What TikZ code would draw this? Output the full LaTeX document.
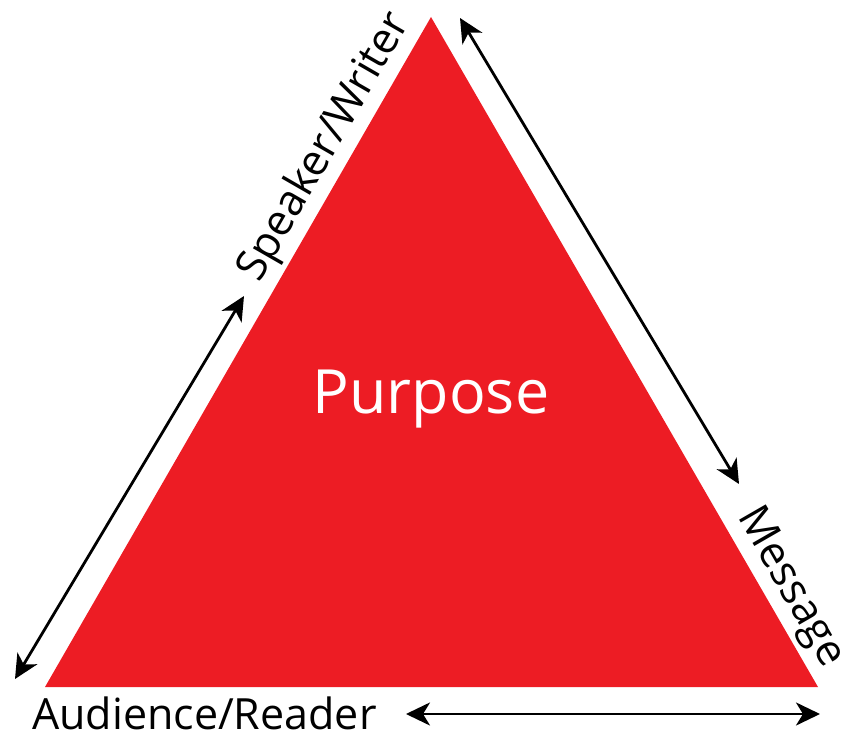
\documentclass[tikz,border=0pt]{standalone}
\usepackage{fontspec}
\setmainfont{Open Sans}
\usetikzlibrary{arrows.meta}
\definecolor{tri}{RGB}{237,28,36}
\begin{document}
\begin{tikzpicture}[x=1pt,y=-1pt,
  tip/.style={Stealth[length=24pt,width=23pt,inset=7pt]},
  dbl/.style={{Stealth[length=24pt,width=23pt,inset=7pt]}-{Stealth[length=24pt,width=23pt,inset=7pt]},line width=2.8pt,black},
  lbl/.style={inner sep=0pt,font=\fontsize{43}{50}\selectfont}]
\useasboundingbox (0,0) rectangle (854,738);
\coordinate (A) at (431,17);
\coordinate (B) at (45,687);
\coordinate (C) at (818,687);
\fill[tri] (A) -- (B) -- (C) -- cycle;
\node[inner sep=0pt,text=white,font=\fontsize{61}{68}\selectfont,anchor=base] (p) at (431,413) {Purpose};
\node[lbl,anchor=base west] (aud) at (32,729) {Audience/Reader};
\node[lbl,rotate=60.06,anchor=base] (spk) at (335,153) {Speaker/Writer};
\node[lbl,rotate=-60.06,anchor=base] (msg) at (781,593) {Message};
\coordinate (l1) at (15,679);
\coordinate (l2) at (244,296);
\coordinate (r1) at (460,18);
\coordinate (r2) at (739,484);
\coordinate (b1) at (406,714);
\coordinate (b2) at (820,714);
\draw[dbl] (l1) -- (l2);
\draw[dbl] (r1) -- (r2);
\draw[dbl] (b1) -- (b2);
\end{tikzpicture}
\end{document}
